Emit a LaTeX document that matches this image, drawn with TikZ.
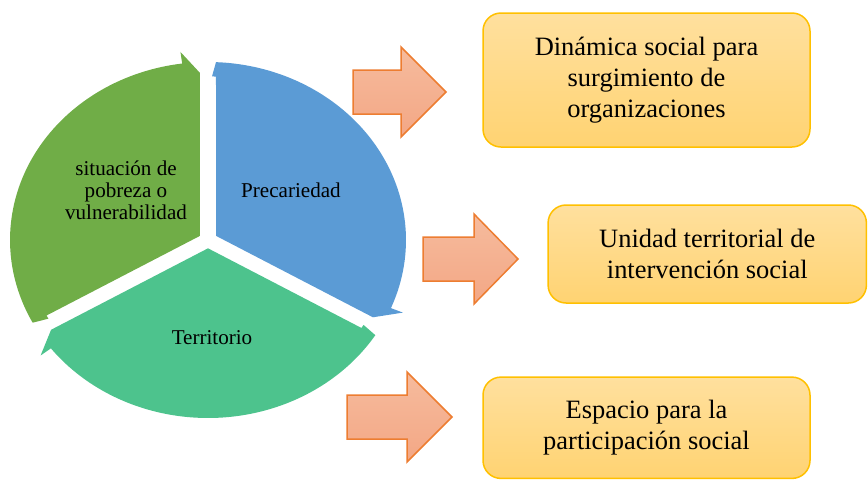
\documentclass[tikz,border=0pt]{standalone}
\usepackage{fontspec}
\setmainfont{Liberation Serif}
\definecolor{cyclegreen}{RGB}{112,173,71}
\definecolor{cycleblue}{RGB}{91,155,213}
\definecolor{cycleteal}{RGB}{77,195,141}
\definecolor{arrowtop}{RGB}{246,187,157}
\definecolor{arrowbot}{RGB}{243,167,133}
\definecolor{arrowline}{RGB}{237,125,49}
\definecolor{boxtop}{RGB}{255,224,158}
\definecolor{boxbot}{RGB}{255,211,114}
\definecolor{boxline}{RGB}{255,192,0}
\begin{document}
\begin{tikzpicture}[x=0.3mm,y=-0.3mm,
  cycletext/.style={align=center,font=\fontsize{18}{18.8}\selectfont},
  infobox/.style={draw=boxline,line width=0.45mm,rounded corners=5.4mm,top color=boxtop,bottom color=boxbot,
    align=center,font=\fontsize{22.6}{26.5}\selectfont},
  blockarrow/.style={draw=arrowline,line width=0.45mm,top color=arrowtop,bottom color=arrowbot}]
\useasboundingbox (0,0) rectangle (868,479);
\begin{scope}[shift={(208,240)},x=0.3mm,y=0.3mm,yscale=0.899]
\foreach \s/\c in {210/cyclegreen,90/cycleblue,-30/cycleteal}
  \fill[\c] ({\s-60}:9.24) -- ({\s-2.52}:182) -- ({\s-1.26}:182) -- ({\s-2.32}:198)
    arc[start angle=\s-2.32,end angle=\s-112.5,radius=198]
    -- ({\s-112.5}:211) -- ({\s-117.53}:186) -- cycle;
\end{scope}
\node[cycletext] (pobreza) at (126,190) {situación de\\pobreza o\\vulnerabilidad};
\node[cycletext] (precariedad) at (291,190) {Precariedad};
\node[cycletext] (territorio) at (212,338) {Territorio};
\foreach \l/\b/\t/\m in {353/401/446/92,423/474/518/259,347/407/452/417}
  \draw[blockarrow] (\l,\m-22) -- (\b,\m-22) -- (\b,\m-45) -- (\t,\m) -- (\b,\m+45) -- (\b,\m+22) -- (\l,\m+22) -- cycle;
\node[infobox,minimum width=98.1mm,minimum height=40.2mm] (dinamica) at (646.5,80) {Dinámica social para\\surgimiento de\\organizaciones};
\node[infobox,minimum width=95.5mm,minimum height=29.4mm] (unidad) at (707.25,254) {Unidad territorial de\\intervención social};
\node[infobox,minimum width=98.1mm,minimum height=30.4mm] (espacio) at (646.5,427.75) {Espacio para la\\participación social};
\end{tikzpicture}
\end{document}
